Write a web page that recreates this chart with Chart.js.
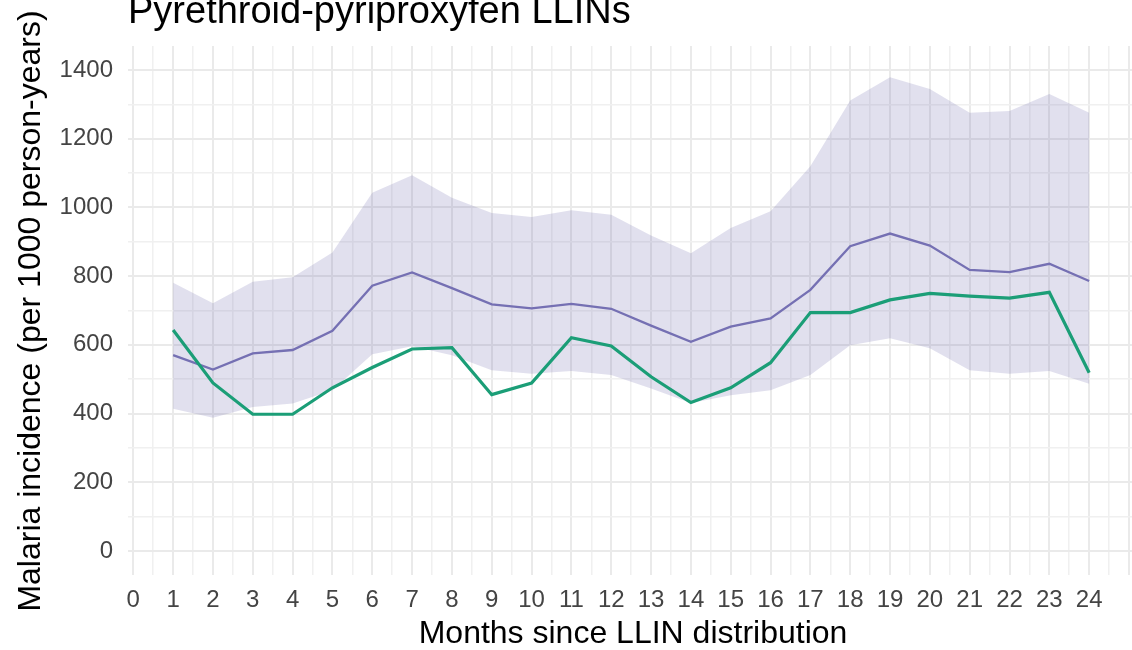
<!DOCTYPE html>
<html>
<head>
<meta charset="utf-8">
<script src="https://cdn.jsdelivr.net/npm/chart.js@4.4.1/dist/chart.umd.min.js"></script>
<style>
  html, body { margin: 0; padding: 0; background: #fff; overflow: hidden; }
  #wrap { width: 1132px; height: 650px; overflow: hidden; position: relative; }
  canvas { display: block; }
</style>
</head>
<body>
<div id="wrap"><canvas id="graf_incidence" width="1140" height="650"></canvas></div>
<script>
// months since distribution
var months = [1, 2, 3, 4, 5, 6, 7, 8, 9, 10, 11, 12, 13, 14, 15, 16, 17, 18, 19, 20, 21, 22, 23, 24];
// observed incidence (green)
var observed = [643, 489, 398, 398, 475, 534, 588, 592, 455, 489, 621, 597, 507, 432, 475, 548, 694, 694, 731, 750, 742, 736, 753, 519];
// model median (purple) and its interval
var predicted = [570, 528, 575, 585, 641, 772, 811, 765, 718, 706, 719, 705, 656, 609, 653, 677, 760, 887, 924, 889, 818, 812, 836, 786];
var upper = [781, 721, 784, 797, 869, 1043, 1094, 1028, 984, 972, 992, 979, 918, 867, 940, 989, 1120, 1311, 1379, 1345, 1276, 1281, 1330, 1276];
var lower = [414, 388, 419, 429, 468, 573, 596, 570, 526, 516, 524, 512, 473, 431, 453, 468, 512, 599, 619, 590, 526, 516, 524, 487];

var title = 'Pyrethroid-pyriproxyfen LLINs';
var xTitle = 'Months since LLIN distribution';
var yTitle = 'Malaria incidence (per 1000 person-years)';

function pts(vals) {
	var out = [];
	for (var i in months) {
		out.push({x: months[i], y: vals[i]});
	}
	return out;
}

var FONT = '"Liberation Sans", Arial, sans-serif';

var textPlugin = {
	id: 'texts',
	afterDraw: function(chart) {
		var c = chart.ctx;
		c.save();
		c.fillStyle = '#000';
		c.textBaseline = 'alphabetic';
		c.font = '38px ' + FONT;
		c.textAlign = 'left';
		c.fillText(title, 128, 23);
		c.font = '32px ' + FONT;
		c.textAlign = 'center';
		c.fillText(xTitle, 633, 643);
		c.translate(40, 311);
		c.rotate(-Math.PI / 2);
		c.fillText(yTitle, 0, 0);
		c.restore();
	}
};

var ctx = document.getElementById('graf_incidence');

var chart = new Chart(ctx, {
	type: 'line',
	data: {
		datasets: [
			{
				label: 'Observed',
				data: pts(observed),
				borderColor: '#1B9E77',
				borderWidth: 3.2,
				pointRadius: 0,
				fill: false,
				order: 0
			},
			{
				label: 'Predicted',
				data: pts(predicted),
				borderColor: '#7570B3',
				borderWidth: 2.3,
				pointRadius: 0,
				fill: false,
				order: 1
			},
			{
				label: 'Upper',
				data: pts(upper),
				borderWidth: 0,
				borderColor: 'rgba(0,0,0,0)',
				backgroundColor: 'rgba(117, 112, 179, 0.22)',
				pointRadius: 0,
				fill: '+1',
				order: 2
			},
			{
				label: 'Lower',
				data: pts(lower),
				borderWidth: 0,
				borderColor: 'rgba(0,0,0,0)',
				pointRadius: 0,
				fill: false,
				order: 3
			}
		]
	},
	options: {
		responsive: false,
		animation: false,
		devicePixelRatio: 1,
		layout: { padding: { left: 0, top: 46, right: 2, bottom: 0 } },
		plugins: {
			legend: { display: false },
			tooltip: { enabled: false }
		},
		scales: {
			x: {
				type: 'linear',
				min: -0.133,
				max: 25.2,
				afterFit: function(s) { s.height = 75; },
				border: { display: false },
				grid: {
					drawTicks: false,
					color: function(c) { return c.tick && c.tick.value % 1 === 0 ? '#EAEAEA' : '#F0F0F0'; },
					lineWidth: function(c) { return c.tick && c.tick.value % 1 === 0 ? 2 : 1.5; }
				},
				ticks: {
					stepSize: 0.5,
					includeBounds: false,
					autoSkip: false,
					maxRotation: 0,
					padding: 11,
					color: '#444444',
					font: { family: FONT, size: 24 },
					callback: function(v) { return v % 1 === 0 && v <= 24 ? String(v) : ''; }
				}
			},
			y: {
				min: -70,
				max: 1470,
				afterFit: function(s) { s.width = 128; },
				border: { display: false },
				grid: {
					drawTicks: false,
					color: function(c) { return c.tick && c.tick.value % 200 === 0 ? '#EAEAEA' : '#F0F0F0'; },
					lineWidth: function(c) { return c.tick && c.tick.value % 200 === 0 ? 2 : 1.5; }
				},
				ticks: {
					stepSize: 100,
					includeBounds: false,
					autoSkip: false,
					padding: 15,
					color: '#444444',
					font: { family: FONT, size: 24 },
					callback: function(v) { return v % 200 === 0 ? String(v) : ''; }
				}
			}
		}
	},
	plugins: [textPlugin]
});
</script>
</body>
</html>
